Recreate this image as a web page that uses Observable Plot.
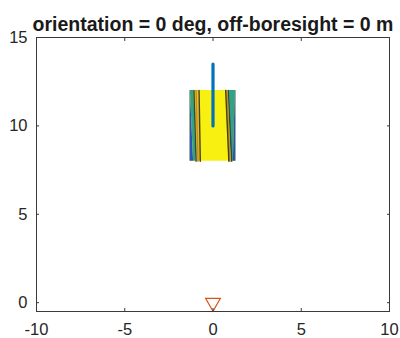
<!DOCTYPE html>
<html>
<head>
<meta charset="utf-8">
<script src="https://cdn.jsdelivr.net/npm/d3@7"></script>
<script src="https://cdn.jsdelivr.net/npm/@observablehq/plot@0.6"></script>
<style>
  html, body { margin: 0; padding: 0; background: #fff; }
  svg { display: block; }
</style>
</head>
<body>
<div id="chart"></div>
<script>
// ---- data ----
const titleText = "orientation = 0 deg, off-boresight = 0 m";
const xTicks = [-10, -5, 0, 5, 10];
const yTicks = [0, 5, 10, 15];

// contour patch spans these y values (bottom, top)
const contourY = [8, 12];
// contour boundaries: x at y=8 and at y=12
const leftEdge   = [-1.3, -1.3];
const leftBlue   = [-1.1, -1.28];
const leftDark1  = [-0.96, -1.08];
const leftOrange = [-0.85, -0.96];
const leftDark2  = [-0.72, -0.79];
const rightDark2  = [0.9, 0.72];
const rightOrange = [0.96, 0.8];
const rightDark1  = [1.06, 0.86];
const rightBlue   = [1.15, 1.27];
const rightEdge   = [1.3, 1.3];

// boresight line and sensor marker
const beamX = [0, 0];
const beamY = [10, 13.5];
const sensor = [{x: 0, y: 0}];

// ---- build tables ----
function band(a, b, fill) {
  return contourY.map((y, i) => ({y, x1: a[i], x2: b[i], fill}));
}
function line(a, stroke) {
  return contourY.map((y, i) => ({y, x: a[i], stroke}));
}
const bands = [
  ...band(leftEdge, rightEdge, "#f8f010"),
  ...band(leftEdge, leftBlue, "#2a55b5"),
  ...band(leftBlue, leftDark1, "#33a188"),
  ...band(leftDark1, leftDark2, "#e2c42a"),
  ...band(rightDark2, rightDark1, "#e2c42a"),
  ...band(rightDark1, rightBlue, "#33a188"),
  ...band(rightBlue, rightEdge, "#2a55b5")
];
const bandGroups = d3.groups(bands, (d, i) => Math.floor(i / contourY.length));
const lines = [
  ["L1", line(leftDark1, "#25503f")],
  ["L2", line(leftOrange, "#d08a1c")],
  ["L3", line(leftDark2, "#45401a")],
  ["R1", line(rightDark1, "#25503f")],
  ["R2", line(rightOrange, "#d08a1c")],
  ["R3", line(rightDark2, "#45401a")]
];
const beam = beamY.map((y, i) => ({x: beamX[i], y}));

const marks = [];
for (const [, rows] of bandGroups) {
  marks.push(Plot.areaX(rows, {y: "y", x1: "x1", x2: "x2", fill: rows[0].fill, curve: "linear"}));
}
for (const [, rows] of lines) {
  marks.push(Plot.line(rows, {x: "x", y: "y", stroke: rows[0].stroke, strokeWidth: 1.4}));
}
const fmt = d => String(d);
marks.push(
  Plot.line(beam, {x: "x", y: "y", stroke: "#0072BD", strokeWidth: 3.2}),
  Plot.dot(sensor, {x: "x", y: "y", symbol: "triangle", rotate: 180, r: 5.5, stroke: "#D95319", strokeWidth: 1.2, fill: "none"}),
  Plot.frame({stroke: "#3a3a3a", strokeWidth: 1}),
  Plot.axisX(xTicks, {anchor: "bottom", tickSize: -3, text: null, stroke: "#3a3a3a"}),
  Plot.axisX(xTicks, {anchor: "top", tickSize: -3, text: null, stroke: "#3a3a3a"}),
  Plot.axisY(yTicks, {anchor: "left", tickSize: -3, text: null, stroke: "#3a3a3a"}),
  Plot.axisY(yTicks, {anchor: "right", tickSize: -3, text: null, stroke: "#3a3a3a"}),
  Plot.axisX(xTicks, {anchor: "bottom", tickSize: 0, tickPadding: 12, fontSize: 16.5, fill: "#262626", tickFormat: fmt}),
  Plot.axisY(yTicks, {anchor: "left", tickSize: 0, tickPadding: 9, fontSize: 16.5, fill: "#262626", tickFormat: fmt}),
  Plot.text([titleText], {frameAnchor: "top", lineAnchor: "bottom", dy: -7, fontSize: 19.5, fontWeight: "bold", fill: "#1a1a1a", text: d => d})
);

const chart = Plot.plot({
  width: 400,
  height: 338,
  marginLeft: 36,
  marginRight: 11,
  marginTop: 37,
  marginBottom: 27,
  style: {fontFamily: "'Liberation Sans', Arial, sans-serif", background: "#fff"},
  x: {domain: [-10, 10], label: null},
  y: {domain: [-0.5, 15], label: null},
  marks
});
document.getElementById("chart").appendChild(chart);
</script>
</body>
</html>
